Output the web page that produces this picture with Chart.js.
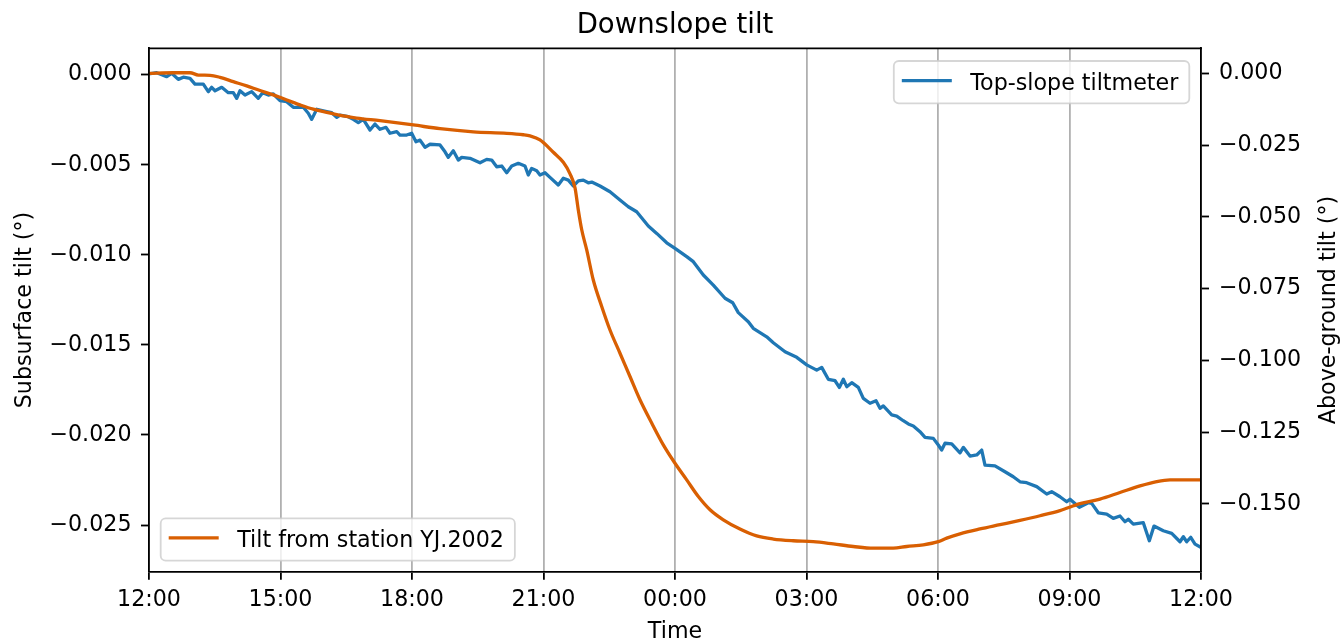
<!DOCTYPE html>
<html>
<head>
<meta charset="utf-8">
<script src="https://cdn.jsdelivr.net/npm/chart.js@4.4.1/dist/chart.umd.min.js"></script>
<style>
html,body{margin:0;padding:0;background:#fff;}
#wrap{width:1341px;height:644px;}
canvas{display:block;}
</style>
</head>
<body>
<div id="wrap"><canvas id="c" width="1341" height="644"></canvas></div>
<script>
// ---- data (hours after 12:00 on day 1) ----
const timeTicks = [0, 3, 6, 9, 12, 15, 18, 21, 24];
const timeLabels = ['12:00', '15:00', '18:00', '21:00', '00:00', '03:00', '06:00', '09:00', '12:00'];
const leftTicks = [0, -0.005, -0.010, -0.015, -0.020, -0.025];
const rightTicks = [0, -0.025, -0.050, -0.075, -0.100, -0.125, -0.150];

const blueHours = [0,0.176,0.404,0.518,0.668,0.783,0.935,1.049,1.239,1.353,
1.43,1.506,1.659,1.809,1.923,2.001,2.076,2.19,2.343,2.493,
2.594,2.722,2.836,2.989,3.141,3.292,3.52,3.634,3.712,3.826,
4.054,4.168,4.282,4.357,4.547,4.661,4.775,4.889,5.042,5.156,
5.27,5.407,5.498,5.651,5.726,5.879,5.993,6.091,6.183,6.297,
6.411,6.639,6.753,6.828,6.942,7.056,7.134,7.323,7.551,7.704,
7.818,7.932,8.047,8.161,8.275,8.425,8.578,8.653,8.731,8.845,
8.92,9.034,9.148,9.338,9.452,9.566,9.68,9.794,9.908,10.022,
10.1,10.289,10.517,10.745,10.935,11.126,11.391,11.583,11.811,12.0,
12.267,12.418,12.646,12.874,13.141,13.317,13.444,13.672,13.786,14.092,
14.243,14.51,14.777,15.005,15.233,15.347,15.498,15.651,15.749,15.84,
15.918,16.032,16.182,16.296,16.449,16.586,16.677,16.752,16.944,17.058,
17.208,17.323,17.437,17.589,17.704,17.893,18.007,18.084,18.16,18.313,
18.502,18.578,18.73,18.883,18.997,19.072,19.3,19.528,19.718,19.871,
20.023,20.252,20.48,20.594,20.783,20.936,21.011,21.224,21.429,21.507,
21.657,21.849,21.999,22.152,22.266,22.342,22.456,22.684,22.821,22.928,
23.14,23.332,23.521,23.597,23.674,23.766,23.864,23.994];

const blueTilt = [0.00004,0.00011,-0.00011,0.00008,-0.00026,-0.00014,-0.00020,-0.00052,-0.00052,-0.00094,
-0.00070,-0.00089,-0.00070,-0.00100,-0.00100,-0.00131,-0.00089,-0.00113,-0.00094,-0.00131,
-0.00100,-0.00113,-0.00107,-0.00144,-0.00150,-0.00181,-0.00181,-0.00214,-0.00248,-0.00192,
-0.00205,-0.00211,-0.00237,-0.00224,-0.00233,-0.00248,-0.00266,-0.00248,-0.00307,-0.00274,
-0.00303,-0.00292,-0.00325,-0.00316,-0.00335,-0.00335,-0.00325,-0.00372,-0.00363,-0.00403,
-0.00386,-0.00390,-0.00428,-0.00459,-0.00422,-0.00474,-0.00459,-0.00464,-0.00489,-0.00470,
-0.00474,-0.00511,-0.00507,-0.00544,-0.00507,-0.00492,-0.00507,-0.00557,-0.00520,-0.00533,
-0.00557,-0.00544,-0.00570,-0.00612,-0.00575,-0.00585,-0.00618,-0.00589,-0.00585,-0.00600,
-0.00596,-0.00618,-0.00650,-0.00696,-0.00733,-0.00761,-0.00840,-0.00881,-0.00933,-0.00964,
-0.01010,-0.01038,-0.01112,-0.01168,-0.01241,-0.01266,-0.01321,-0.01371,-0.01408,-0.01455,
-0.01488,-0.01538,-0.01569,-0.01611,-0.01640,-0.01625,-0.01691,-0.01699,-0.01736,-0.01691,
-0.01732,-0.01710,-0.01736,-0.01797,-0.01824,-0.01810,-0.01852,-0.01839,-0.01889,-0.01895,
-0.01921,-0.01939,-0.01950,-0.01982,-0.02013,-0.02019,-0.02056,-0.02084,-0.02046,-0.02050,
-0.02099,-0.02069,-0.02117,-0.02111,-0.02084,-0.02167,-0.02172,-0.02204,-0.02232,-0.02260,
-0.02265,-0.02287,-0.02328,-0.02315,-0.02343,-0.02371,-0.02357,-0.02402,-0.02376,-0.02380,
-0.02432,-0.02439,-0.02463,-0.02450,-0.02482,-0.02468,-0.02495,-0.02487,-0.02587,-0.02506,
-0.02532,-0.02546,-0.02593,-0.02565,-0.02593,-0.02568,-0.02606,-0.02624];

const yjHours = [0,0.554,0.935,1.125,1.392,1.62,1.923,2.229,2.532,2.836,
3.141,3.445,3.748,4.205,4.739,5.27,6.03,6.639,7.399,8.161,
8.539,8.692,8.92,9.224,9.452,9.605,9.719,9.794,9.872,9.986,
10.136,10.328,10.517,10.745,10.973,11.201,11.468,11.733,12.0,12.267,
12.532,12.799,13.102,13.482,13.863,14.242,14.698,15.154,15.611,16.067,
16.524,16.98,17.286,17.665,18.007,18.199,18.502,18.958,19.415,19.871,
20.327,20.783,21.24,21.696,22.152,22.609,22.99,23.293,24];

const yjTilt = [0,0.0002,0.0002,-0.0006,-0.0007,-0.0014,-0.0029,-0.0044,-0.0060,-0.0075,
-0.0093,-0.0110,-0.0125,-0.0141,-0.0156,-0.0165,-0.0180,-0.0193,-0.0204,-0.0209,
-0.0214,-0.0218,-0.0232,-0.0275,-0.0310,-0.0350,-0.0399,-0.0476,-0.0545,-0.0615,
-0.0720,-0.0812,-0.0894,-0.0975,-0.1056,-0.1137,-0.1218,-0.1294,-0.1358,-0.1416,
-0.1474,-0.1520,-0.1555,-0.1587,-0.1611,-0.1622,-0.1628,-0.1631,-0.1639,-0.1648,
-0.1654,-0.1654,-0.1648,-0.1642,-0.1631,-0.1619,-0.1604,-0.1587,-0.1572,-0.1557,
-0.1541,-0.1523,-0.1499,-0.1483,-0.1460,-0.1437,-0.1422,-0.1416,-0.1416];

// ---- styling ----
const BLUE = '#1f77b4';
const ORANGE = '#d95f02';
const FAMILY = '"DejaVu Sans", "Liberation Sans", sans-serif';
const FS = 22.2;
Chart.defaults.font.family = FAMILY;
Chart.defaults.color = '#000';

const fmt = v => (v < -1e-12 ? '\u2212' : '') + Math.abs(v).toFixed(3);

function drawLegend(ctx, left, top, text, color) {
  ctx.save();
  ctx.font = FS + 'px ' + FAMILY;
  const tw = ctx.measureText(text).width;
  const w = 76.5 + tw + 11, h = 42.3;
  ctx.beginPath();
  ctx.roundRect(left, top, w, h, 5);
  ctx.fillStyle = 'rgba(255,255,255,0.8)';
  ctx.fill();
  ctx.strokeStyle = 'rgba(204,204,204,0.8)';
  ctx.lineWidth = 1.8;
  ctx.stroke();
  const cy = top + h / 2;
  ctx.beginPath();
  ctx.moveTo(left + 8, cy - 1.6);
  ctx.lineTo(left + 58, cy - 1.6);
  ctx.strokeStyle = color;
  ctx.lineWidth = 3.3;
  ctx.stroke();
  ctx.fillStyle = '#000';
  ctx.textBaseline = 'alphabetic';
  ctx.textAlign = 'left';
  ctx.fillText(text, left + 76.5, cy + 7.6);
  ctx.restore();
  return w;
}

const extras = {
  id: 'extras',
  afterDraw(chart) {
    const ctx = chart.ctx, a = chart.chartArea;
    ctx.save();
    ctx.strokeStyle = '#000';
    ctx.lineWidth = 1.8;
    ctx.beginPath();
    ctx.moveTo(a.left - 0.9, a.top);
    ctx.lineTo(a.right + 0.9, a.top);
    ctx.stroke();
    ctx.restore();

    // right axis title (reads bottom to top)
    ctx.save();
    ctx.font = FS + 'px ' + FAMILY;
    ctx.fillStyle = '#000';
    ctx.translate(1335, (a.top + a.bottom) / 2);
    ctx.rotate(-Math.PI / 2);
    ctx.textAlign = 'center';
    ctx.textBaseline = 'alphabetic';
    ctx.fillText('Above-ground tilt (\u00b0)', 0, 0);
    ctx.restore();

    // legends
    const ds = chart.data.datasets;
    ctx.save();
    ctx.font = FS + 'px ' + FAMILY;
    const tw1 = ctx.measureText(ds[0].label).width;
    ctx.restore();
    const w1 = 76.5 + tw1 + 11;
    drawLegend(ctx, a.right - 11.7 - w1, a.top + 12.7, ds[0].label, ds[0].borderColor);
    drawLegend(ctx, a.left + 11.7, a.bottom - 11 - 42.3, ds[1].label, ds[1].borderColor);
  }
};

new Chart(document.getElementById('c'), {
  type: 'line',
  data: {
    datasets: [
      {
        label: 'Top-slope tiltmeter',
        data: blueHours.map((h, i) => ({x: h, y: blueTilt[i]})),
        yAxisID: 'y',
        borderColor: BLUE,
        backgroundColor: BLUE,
        borderWidth: 3.3,
        pointRadius: 0,
        tension: 0,
        borderJoinStyle: 'round',
        order: 1
      },
      {
        label: 'Tilt from station YJ.2002',
        data: yjHours.map((h, i) => ({x: h, y: yjTilt[i]})),
        yAxisID: 'y2',
        borderColor: ORANGE,
        backgroundColor: ORANGE,
        borderWidth: 3.3,
        pointRadius: 0,
        cubicInterpolationMode: 'monotone',
        borderJoinStyle: 'round',
        order: 0
      }
    ]
  },
  options: {
    responsive: false,
    animation: false,
    devicePixelRatio: 1,
    layout: {padding: 0},
    plugins: {
      legend: {display: false},
      tooltip: {enabled: false},
      title: {
        display: true,
        text: 'Downslope tilt',
        fullSize: false,
        color: '#000',
        font: {family: FAMILY, size: 27.5, weight: 'normal', lineHeight: 1.2},
        padding: {top: 9, bottom: 6.3}
      }
    },
    scales: {
      x: {
        type: 'linear',
        position: 'bottom',
        min: 0,
        max: 24,
        afterBuildTicks: s => { s.ticks = timeTicks.map(v => ({value: v})); },
        afterFit: s => { s.height = 72.3; },
        ticks: {
          autoSkip: false, maxRotation: 0, padding: 7.5, color: '#000',
          font: {size: FS},
          callback: v => { const i = timeTicks.indexOf(v); return i >= 0 ? timeLabels[i] : ''; }
        },
        grid: {display: true, drawOnChartArea: true, color: '#b0b0b0', lineWidth: 1.8,
               drawTicks: true, tickLength: 8, tickColor: '#000', tickWidth: 1.8},
        border: {display: true, color: '#000', width: 1.8, z: 1},
        title: {display: true, text: 'Time', color: '#000',
                font: {size: FS, lineHeight: 1}, padding: {top: 0, bottom: 0.6}}
      },
      y: {
        type: 'linear',
        position: 'left',
        min: -0.027592,
        max: 0.001466,
        afterBuildTicks: s => { s.ticks = leftTicks.map(v => ({value: v})); },
        afterFit: s => { s.width = 149; },
        ticks: {padding: 9.5, color: '#000', font: {size: FS}, callback: v => fmt(v)},
        grid: {display: true, drawOnChartArea: false, drawTicks: true, tickLength: 8,
               tickColor: '#000', tickWidth: 1.8},
        border: {display: true, color: '#000', width: 1.8, z: 1},
        title: {display: true, text: 'Subsurface tilt (\u00b0)', color: '#000',
                font: {size: FS, lineHeight: 1.2}, padding: {top: 11.7, bottom: 0}}
      },
      y2: {
        type: 'linear',
        position: 'right',
        min: -0.17358,
        max: 0.008707,
        afterBuildTicks: s => { s.ticks = rightTicks.map(v => ({value: v})); },
        afterFit: s => { s.width = 140; },
        ticks: {padding: 10, color: '#000', font: {size: FS}, callback: v => fmt(v)},
        grid: {display: true, drawOnChartArea: false, drawTicks: true, tickLength: 8,
               tickColor: '#000', tickWidth: 1.8},
        border: {display: true, color: '#000', width: 1.8, z: 1},
        title: {display: false}
      }
    }
  },
  plugins: [extras]
});
</script>
</body>
</html>
